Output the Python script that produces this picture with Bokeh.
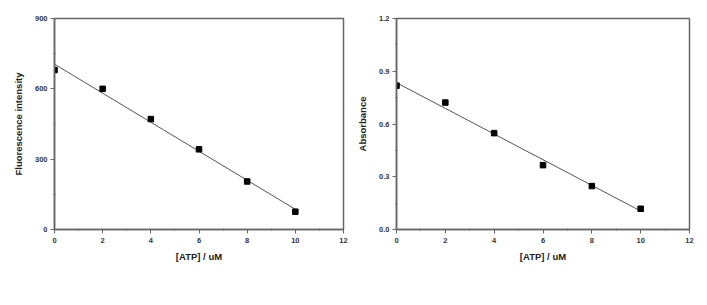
import numpy as np
from bokeh.plotting import figure
from bokeh.layouts import row
from bokeh.models import Range1d, FixedTicker
from bokeh.embed import file_html
from bokeh.resources import INLINE

atp = [0, 2, 4, 6, 8, 10]
fluorescence = [680, 600, 471, 342, 205, 76]
absorbance = [0.818, 0.722, 0.548, 0.366, 0.247, 0.118]

x_ticks = [0, 2, 4, 6, 8, 10, 12]
x_minor = [1, 3, 5, 7, 9, 11]
fl_ticks = [0, 300, 600, 900]
fl_minor = [150, 450, 750]
ab_ticks = [0.0, 0.3, 0.6, 0.9, 1.2]
ab_minor = [0.15, 0.45, 0.75, 1.05]

FONT = "Liberation Sans"
AX = "#666666"


def make(y, ylabel, yticks, yminor, ymax, width, bl, br, fmt):
    p = figure(width=width, height=305, output_backend="svg", toolbar_location=None,
               x_range=Range1d(0, 12), y_range=Range1d(0, ymax),
               min_border_left=bl, min_border_right=br, min_border_top=18,
               min_border_bottom=76)
    p.grid.visible = False
    p.outline_line_color = AX
    p.outline_line_width = 1.5
    p.background_fill_color = "white"
    p.border_fill_color = "white"
    p.xaxis.ticker = FixedTicker(ticks=x_ticks, minor_ticks=x_minor)
    p.yaxis.ticker = FixedTicker(ticks=yticks, minor_ticks=yminor)
    p.yaxis.major_label_overrides = {t: fmt(t) for t in yticks}
    for ax in (p.xaxis[0], p.yaxis[0]):
        ax.axis_line_color = AX
        ax.axis_line_width = 1.5
        ax.major_tick_line_color = AX
        ax.minor_tick_line_color = AX
        ax.major_tick_in = 0
        ax.major_tick_out = 4
        ax.minor_tick_in = 1
        ax.minor_tick_out = 1
        ax.major_label_text_font = FONT
        ax.major_label_text_font_style = "bold"
        ax.major_label_text_font_size = "7.5px"
        ax.major_label_text_color = "#333333"
        ax.axis_label_text_font = FONT
        ax.axis_label_text_font_style = "bold"
        ax.axis_label_text_font_size = "9.5px"
        ax.axis_label_text_color = "#222222"
    p.xaxis.axis_label = "[ATP] / uM"
    p.yaxis.axis_label = ylabel
    p.xaxis.major_label_standoff = 4
    p.xaxis.axis_label_standoff = 5
    p.yaxis.major_label_standoff = 3
    p.yaxis.axis_label_standoff = 8

    k, b = np.polyfit(atp, y, 1)
    xs = [atp[0], atp[-1]]
    p.line(xs, [k * v + b for v in xs], line_color="#555555", line_width=1)
    p.scatter(atp, y, marker="square", size=5.5, color="black")
    return p


p1 = make(fluorescence, "Fluorescence intensity", fl_ticks, fl_minor, 900, 353, 54, 10,
          lambda t: str(int(t)))
p2 = make(absorbance, "Absorbance", ab_ticks, ab_minor, 1.2, 354, 43, 18,
          lambda t: f"{t:.1f}")

layout = row(p1, p2)
open("out.html", "w").write(file_html(layout, INLINE))
